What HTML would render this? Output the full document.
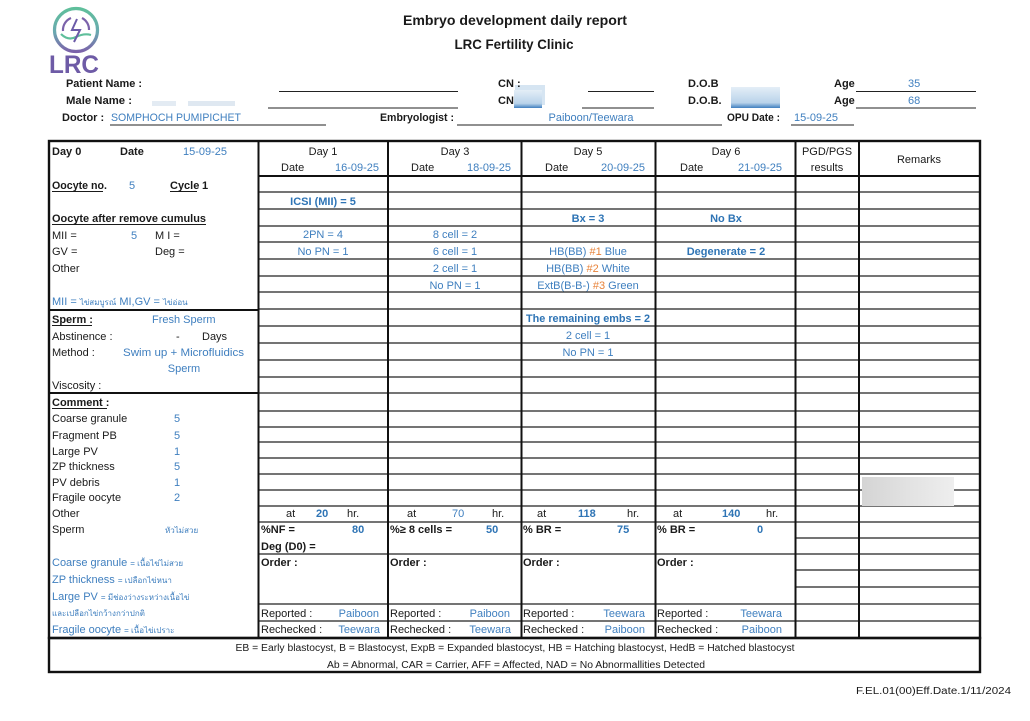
<!DOCTYPE html>
<html><head><meta charset="utf-8">
<style>
html,body{margin:0;padding:0;background:#fff;}
svg{display:block;}
text{font-family:"Liberation Sans","DejaVu Sans",sans-serif;font-size:11px;fill:#1a1a1a;}
.b{font-weight:bold;}
.bl{fill:#3f7fbf;}
.bb{fill:#2e74b5;font-weight:bold;}
.c{text-anchor:middle;}
.r{text-anchor:end;}
.or{fill:#e8833a;}
.th{font-size:8px;}
.ft{font-size:10px;}
</style></head><body>
<svg width="1030" height="721" viewBox="0 0 1030 721" xmlns="http://www.w3.org/2000/svg">
<defs>
<linearGradient id="lg" x1="0" y1="0" x2="0" y2="1"><stop offset="0" stop-color="#5fbf9b"/><stop offset="0.55" stop-color="#6aa9b0"/><stop offset="1" stop-color="#7b62aa"/></linearGradient>
<linearGradient id="blu" x1="0" y1="0" x2="0" y2="1"><stop offset="0" stop-color="#e4eef7"/><stop offset="0.75" stop-color="#b9d3ea"/><stop offset="1" stop-color="#3f7fbf"/></linearGradient>
<linearGradient id="gr" x1="0" y1="0" x2="1" y2="0"><stop offset="0" stop-color="#d4d4d4"/><stop offset="0.5" stop-color="#e2e2e2"/><stop offset="1" stop-color="#eeeeee"/></linearGradient>
</defs>
<rect width="1030" height="721" fill="#fff"/>

<!-- Logo -->
<circle cx="76" cy="30" r="21.5" fill="none" stroke="url(#lg)" stroke-width="3.2"/>
<path d="M63 31 A13 13 0 0 1 71 18" fill="none" stroke="#7b62aa" stroke-width="2.2"/>
<path d="M82 18 A13 13 0 0 1 89 30" fill="none" stroke="#7b62aa" stroke-width="2.2"/>
<path d="M61 34 Q68 41 76 37 Q84 33 91 35" fill="none" stroke="#5fbf9b" stroke-width="2.2"/>
<path d="M77 19 L72 30 L80 30 L74 42" fill="none" stroke="#6b5ba8" stroke-width="2"/>
<text x="49" y="73" style="font-size:25px;fill:#6e5ba6;font-weight:bold" textLength="50" lengthAdjust="spacingAndGlyphs">LRC</text>

<!-- Title -->
<text x="515" y="25" class="b c" style="font-size:14px" textLength="224" lengthAdjust="spacingAndGlyphs">Embryo development daily report</text>
<text x="514" y="49" class="b c" style="font-size:14px" textLength="119" lengthAdjust="spacingAndGlyphs">LRC Fertility Clinic</text>

<!-- Header fields -->
<g stroke="#222" stroke-width="1">
<line x1="279" y1="91.5" x2="458" y2="91.5"/>
<line x1="588" y1="91.5" x2="654" y2="91.5"/>
<line x1="856" y1="91.5" x2="976" y2="91.5"/>
<line x1="268" y1="108" x2="458" y2="108"/>
<line x1="582" y1="108" x2="654" y2="108"/>
<line x1="856" y1="108" x2="976" y2="108"/>
<line x1="110" y1="125" x2="326" y2="125"/>
<line x1="457" y1="125" x2="722" y2="125"/>
<line x1="791" y1="125" x2="854" y2="125"/>
</g>
<rect x="515" y="85" width="30" height="20" fill="#d6e5f2"/>
<rect x="514" y="90" width="28" height="18" fill="url(#blu)"/>
<rect x="731" y="87" width="49" height="21" fill="url(#blu)"/>
<rect x="152" y="101" width="24" height="5" fill="#e3ebf3"/>
<rect x="188" y="101" width="47" height="5" fill="#dfe8f1"/>

<text x="66" y="87" class="b" textLength="76" lengthAdjust="spacingAndGlyphs">Patient Name :</text>
<text x="498" y="87" class="b">CN :</text>
<text x="688" y="87" class="b">D.O.B</text>
<text x="834" y="87" class="b">Age</text>
<text x="908" y="87" class="bl">35</text>
<text x="66" y="104" class="b" textLength="66" lengthAdjust="spacingAndGlyphs">Male Name :</text>
<text x="498" y="104" class="b">CN</text>
<text x="688" y="104" class="b">D.O.B.</text>
<text x="834" y="104" class="b">Age</text>
<text x="908" y="104" class="bl">68</text>
<text x="62" y="121" class="b">Doctor :</text>
<text x="111" y="121" class="bl" textLength="130" lengthAdjust="spacingAndGlyphs">SOMPHOCH PUMIPICHET</text>
<text x="380" y="121" class="b" textLength="74" lengthAdjust="spacingAndGlyphs">Embryologist :</text>
<text x="591" y="121" class="bl c">Paiboon/Teewara</text>
<text x="727" y="121" class="b" textLength="53" lengthAdjust="spacingAndGlyphs">OPU Date :</text>
<text x="794" y="121" class="bl">15-09-25</text>

<!-- Table row lines: day columns -->
<g stroke="#222" stroke-width="1.3">
<path d="M258 192H796 M258 209H796 M258 226H796 M258 242H796 M258 259H796 M258 276H796 M258 292H796 M258 309H796 M258 326H796 M258 343H796 M258 360H796 M258 377H796 M258 393H796 M258 411H796 M258 427H796 M258 442H796 M258 458H796 M258 474H796 M258 490H796 M258 506H796 M258 522H796 M258 554H796 M258 604H796 M258 621H796"/>
<path d="M796 192H980 M796 209H980 M796 226H980 M796 242H980 M796 259H980 M796 276H980 M796 292H980 M796 309H980 M796 326H980 M796 343H980 M796 360H980 M796 377H980 M796 393H980 M796 411H980 M796 427H980 M796 442H980 M796 458H980 M796 474H980 M796 490H980 M796 506H980 M796 522H980 M796 538H980 M796 554H980 M796 570H980 M796 587H980 M796 604H980 M796 621H980"/>
</g>
<g stroke="#111" stroke-width="2">
<line x1="258" y1="176" x2="980" y2="176"/>
<line x1="49" y1="310" x2="258" y2="310"/>
<line x1="49" y1="393" x2="258" y2="393"/>
<line x1="258.5" y1="141" x2="258.5" y2="638"/>
<line x1="388" y1="141" x2="388" y2="638"/>
<line x1="521.5" y1="141" x2="521.5" y2="638"/>
<line x1="655.5" y1="141" x2="655.5" y2="638"/>
<line x1="795.5" y1="141" x2="795.5" y2="638"/>
<line x1="859" y1="141" x2="859" y2="638"/>
</g>
<g stroke="#111" stroke-width="2.4" fill="none">
<rect x="49" y="141" width="931" height="497"/>
<rect x="49" y="638" width="931" height="34"/>
</g>

<!-- Remarks blur -->
<rect x="862" y="477" width="92" height="29" fill="url(#gr)"/>

<!-- Header row of table -->
<text x="52" y="155" class="b">Day 0</text>
<text x="120" y="155" class="b">Date</text>
<text x="183" y="155" class="bl">15-09-25</text>
<text x="323" y="155" class="c">Day 1</text>
<text x="281" y="171">Date</text>
<text x="335" y="171" class="bl">16-09-25</text>
<text x="455" y="155" class="c">Day 3</text>
<text x="411" y="171">Date</text>
<text x="467" y="171" class="bl">18-09-25</text>
<text x="588" y="155" class="c">Day 5</text>
<text x="545" y="171">Date</text>
<text x="601" y="171" class="bl">20-09-25</text>
<text x="726" y="155" class="c">Day 6</text>
<text x="680" y="171">Date</text>
<text x="738" y="171" class="bl">21-09-25</text>
<text x="827" y="155" class="c">PGD/PGS</text>
<text x="827" y="171" class="c">results</text>
<text x="919" y="163" class="c">Remarks</text>

<!-- Left column -->
<g stroke="#1a1a1a" stroke-width="1">
<line x1="52" y1="191.5" x2="103" y2="191.5"/>
<line x1="170" y1="191.5" x2="197" y2="191.5"/>
<line x1="52" y1="224.5" x2="206" y2="224.5"/>
<line x1="52" y1="325.5" x2="92" y2="325.5"/>
<line x1="52" y1="408.5" x2="107" y2="408.5"/>
</g>
<text x="52" y="189" class="b" textLength="55" lengthAdjust="spacingAndGlyphs">Oocyte no.</text>
<text x="129" y="189" class="bl">5</text>
<text x="170" y="189" class="b">Cycle</text>
<text x="202" y="189" class="b">1</text>
<text x="52" y="222" class="b" textLength="154" lengthAdjust="spacingAndGlyphs">Oocyte after remove cumulus</text>
<text x="52" y="239">MII =</text>
<text x="131" y="239" class="bl">5</text>
<text x="155" y="239">M I =</text>
<text x="52" y="255">GV =</text>
<text x="155" y="255">Deg =</text>
<text x="52" y="272">Other</text>
<text x="52" y="305" class="bl">MII = <tspan class="th">ไข่สมบูรณ์</tspan> MI,GV = <tspan class="th">ไข่อ่อน</tspan></text>
<text x="52" y="323" class="b">Sperm :</text>
<text x="152" y="323" class="bl">Fresh Sperm</text>
<text x="52" y="340">Abstinence :</text>
<text x="176" y="340">-</text>
<text x="202" y="340">Days</text>
<text x="52" y="356">Method :</text>
<text x="123" y="356" class="bl" textLength="121" lengthAdjust="spacingAndGlyphs">Swim up + Microfluidics</text>
<text x="184" y="372" class="bl c">Sperm</text>
<text x="52" y="389">Viscosity :</text>
<text x="52" y="406" class="b">Comment :</text>
<text x="52" y="422">Coarse granule</text><text x="174" y="422" class="bl">5</text>
<text x="52" y="439">Fragment PB</text><text x="174" y="439" class="bl">5</text>
<text x="52" y="455">Large PV</text><text x="174" y="455" class="bl">1</text>
<text x="52" y="470">ZP thickness</text><text x="174" y="470" class="bl">5</text>
<text x="52" y="486">PV debris</text><text x="174" y="486" class="bl">1</text>
<text x="52" y="501">Fragile oocyte</text><text x="174" y="501" class="bl">2</text>
<text x="52" y="517">Other</text>
<text x="52" y="533">Sperm</text>
<text x="165" y="533" class="bl th">หัวไม่สวย</text>
<text x="52" y="566" class="bl">Coarse granule  <tspan class="th">= เนื้อไข่ไม่สวย</tspan></text>
<text x="52" y="583" class="bl">ZP thickness <tspan class="th">= เปลือกไข่หนา</tspan></text>
<text x="52" y="600" class="bl">Large PV <tspan class="th">= มีช่องว่างระหว่างเนื้อไข่</tspan></text>
<text x="52" y="616" class="bl th">และเปลือกไข่กว้างกว่าปกติ</text>
<text x="52" y="633" class="bl">Fragile oocyte <tspan class="th">= เนื้อไข่เปราะ</tspan></text>

<!-- Day 1 -->
<text x="323" y="205" class="bb c">ICSI (MII) = 5</text>
<text x="323" y="238" class="bl c">2PN = 4</text>
<text x="323" y="255" class="bl c">No PN = 1</text>
<text x="286" y="517">at</text>
<text x="316" y="517" class="bb">20</text>
<text x="347" y="517">hr.</text>
<text x="261" y="533" class="b">%NF =</text>
<text x="352" y="533" class="bb">80</text>
<text x="261" y="550" class="b">Deg (D0) =</text>
<text x="261" y="566" class="b">Order :</text>
<text x="261" y="617">Reported :</text>
<text x="379" y="617" class="bl r">Paiboon</text>
<text x="261" y="633">Rechecked :</text>
<text x="380" y="633" class="bl r">Teewara</text>

<!-- Day 3 -->
<text x="455" y="238" class="bl c">8 cell = 2</text>
<text x="455" y="255" class="bl c">6 cell = 1</text>
<text x="455" y="272" class="bl c">2 cell = 1</text>
<text x="455" y="289" class="bl c">No PN = 1</text>
<text x="407" y="517">at</text>
<text x="452" y="517" class="bl">70</text>
<text x="492" y="517">hr.</text>
<text x="390" y="533" class="b">%≥ 8 cells =</text>
<text x="486" y="533" class="bb">50</text>
<text x="390" y="566" class="b">Order :</text>
<text x="390" y="617">Reported :</text>
<text x="510" y="617" class="bl r">Paiboon</text>
<text x="390" y="633">Rechecked :</text>
<text x="511" y="633" class="bl r">Teewara</text>

<!-- Day 5 -->
<text x="588" y="222" class="bb c">Bx =  3</text>
<text x="588" y="255" class="bl c">HB(BB) <tspan class="or">#1</tspan> Blue</text>
<text x="588" y="272" class="bl c">HB(BB) <tspan class="or">#2</tspan> White</text>
<text x="588" y="289" class="bl c">ExtB(B-B-) <tspan class="or">#3</tspan> Green</text>
<text x="588" y="322" class="bb c" textLength="124" lengthAdjust="spacingAndGlyphs">The remaining embs = 2</text>
<text x="588" y="339" class="bl c">2 cell = 1</text>
<text x="588" y="356" class="bl c">No PN = 1</text>
<text x="537" y="517">at</text>
<text x="578" y="517" class="bb">118</text>
<text x="627" y="517">hr.</text>
<text x="523" y="533" class="b">% BR =</text>
<text x="617" y="533" class="bb">75</text>
<text x="523" y="566" class="b">Order :</text>
<text x="523" y="617">Reported :</text>
<text x="645" y="617" class="bl r">Teewara</text>
<text x="523" y="633">Rechecked :</text>
<text x="645" y="633" class="bl r">Paiboon</text>

<!-- Day 6 -->
<text x="726" y="222" class="bb c">No Bx</text>
<text x="726" y="255" class="bb c">Degenerate = 2</text>
<text x="673" y="517">at</text>
<text x="722" y="517" class="bb">140</text>
<text x="766" y="517">hr.</text>
<text x="657" y="533" class="b">% BR =</text>
<text x="757" y="533" class="bb">0</text>
<text x="657" y="566" class="b">Order :</text>
<text x="657" y="617">Reported :</text>
<text x="782" y="617" class="bl r">Teewara</text>
<text x="657" y="633">Rechecked :</text>
<text x="782" y="633" class="bl r">Paiboon</text>

<!-- Footer -->
<text x="515" y="651" class="c ft" textLength="559" lengthAdjust="spacingAndGlyphs">EB = Early blastocyst, B =  Blastocyst, ExpB = Expanded  blastocyst, HB = Hatching blastocyst, HedB = Hatched blastocyst</text>
<text x="516" y="668" class="c ft" textLength="378" lengthAdjust="spacingAndGlyphs">Ab = Abnormal, CAR = Carrier, AFF = Affected, NAD = No Abnormallities Detected</text>
<text x="856" y="694" class="ft" textLength="155" lengthAdjust="spacingAndGlyphs">F.EL.01(00)Eff.Date.1/11/2024</text>
</svg>
</body></html>
